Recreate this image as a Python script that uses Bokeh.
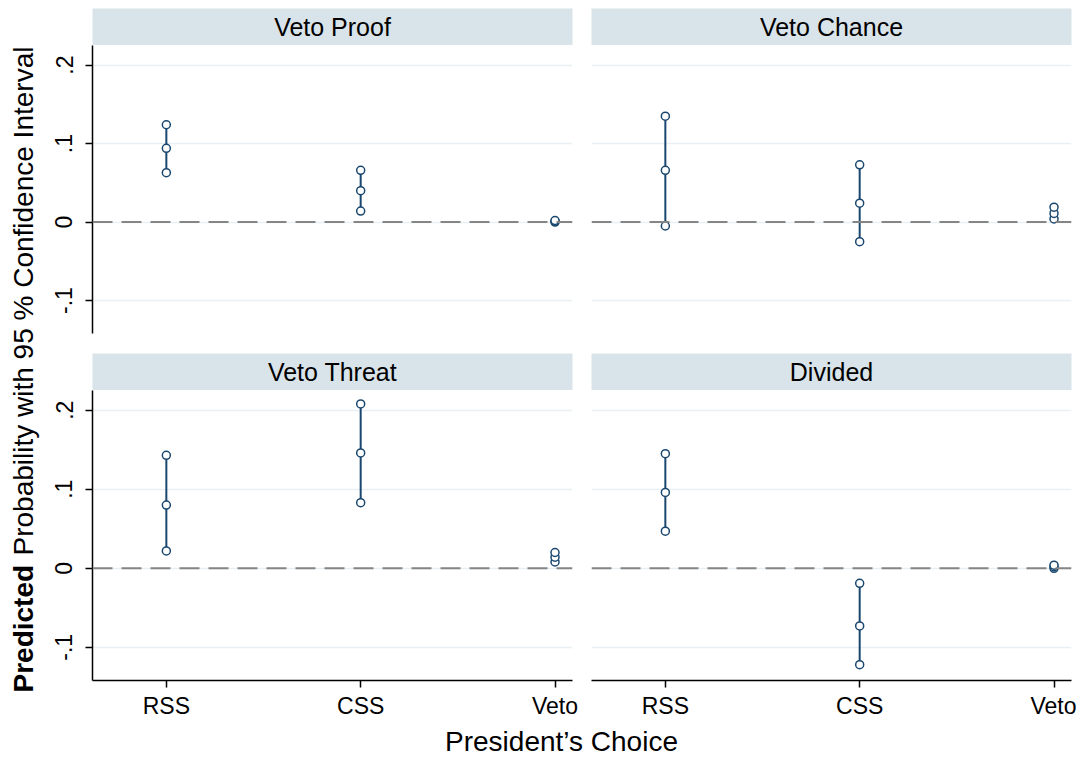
import math
from bokeh.plotting import figure
from bokeh.layouts import row, column
from bokeh.models import Range1d, FixedTicker, Span, Grid, ColumnDataSource
from bokeh.core.properties import value
from bokeh.embed import file_html
from bokeh.resources import INLINE

# ---- data ----
choices = ["RSS", "CSS", "Veto"]
panel_titles = ["Veto Proof", "Veto Chance", "Veto Threat", "Divided"]

vp_lo = [0.063, 0.014, 0.000]
vp_mid = [0.094, 0.040, 0.001]
vp_hi = [0.124, 0.066, 0.002]

vc_lo = [-0.005, -0.025, 0.004]
vc_mid = [0.066, 0.024, 0.011]
vc_hi = [0.135, 0.073, 0.019]

vt_lo = [0.022, 0.083, 0.008]
vt_mid = [0.080, 0.146, 0.014]
vt_hi = [0.143, 0.208, 0.020]

dv_lo = [0.047, -0.122, 0.000]
dv_mid = [0.096, -0.073, 0.002]
dv_hi = [0.145, -0.019, 0.004]

y_ticks = [-0.1, 0.0, 0.1, 0.2]
y_tick_labels = ["-.1", "0", ".1", ".2"]

# ---- styles ----
FONT = "Liberation Sans"
NAVY = "#1a476f"
STRIP = "#d9e4ea"
GRID = "#e9f0f3"
TICK_FS = "23px"
STRIP_FS = "25px"
TITLE_FS = "28px"

LEFT_W, RIGHT_W = 545, 491
LEFT_B = 52
TOP_H, BOT_H = 308, 331
STRIP_H = 37
TOP_PAD = 8
XLAB_H = 36
YLAB_W = 40


def base_fig(width, height, left, **kw):
    p = figure(width=width, height=height, output_backend="svg", toolbar_location=None,
               min_border_left=LEFT_B if left else 6, min_border_right=13 if left else 5,
               background_fill_color="white", border_fill_color="white",
               outline_line_color=None, **kw)
    return p


def strip(title, left, top_pad):
    p = base_fig(LEFT_W if left else RIGHT_W, STRIP_H + top_pad, left,
                 x_range=Range1d(0, 1), y_range=Range1d(0, 1),
                 x_axis_location=None, y_axis_location=None,
                 min_border_bottom=0, min_border_top=top_pad)
    p.background_fill_color = STRIP
    p.grid.visible = False
    p.text(x=[0.5], y=[0.5], text=[title], text_align="center", text_baseline="middle",
           text_font=value(FONT), text_font_size=STRIP_FS, text_color="black")
    return p


def panel(lo, mid, hi, left, bottom):
    xs = [i + 1 for i in range(len(choices))]
    p = base_fig(LEFT_W if left else RIGHT_W, BOT_H if bottom else TOP_H, left,
                 x_range=Range1d(0.62, 3.09), y_range=Range1d(-0.142, 0.225),
                 x_axis_location="below" if bottom else None,
                 y_axis_location="left" if left else None,
                 min_border_top=0, min_border_bottom=40 if bottom else 20)
    p.grid.visible = False
    p.add_layout(Grid(dimension=1, ticker=FixedTicker(ticks=y_ticks),
                      grid_line_color=GRID, grid_line_width=1.5))
    p.add_layout(Span(location=0, dimension="width", line_color="#858585",
                      line_dash="20 9", line_width=2))
    src = ColumnDataSource(dict(x=xs, lo=lo, mid=mid, hi=hi))
    p.segment(x0="x", y0="lo", x1="x", y1="hi", source=src, line_color=NAVY, line_width=2)
    for col in ("lo", "mid", "hi"):
        p.scatter(x="x", y=col, source=src, marker="circle", size=8,
                  line_color=NAVY, line_width=1.5, fill_color="white")
    if left:
        ax = p.yaxis[0]
        ax.ticker = FixedTicker(ticks=y_ticks)
        ax.major_label_overrides = {t: l for t, l in zip(y_ticks, y_tick_labels)}
        ax.major_label_orientation = "vertical"
        ax.major_label_text_font = FONT
        ax.major_label_text_font_size = TICK_FS
        ax.major_label_text_color = "black"
        ax.major_label_standoff = 13
        ax.major_tick_out = 7
        ax.major_tick_in = 0
        ax.minor_tick_line_color = None
        ax.axis_line_width = 1.5
        ax.major_tick_line_width = 1.5
        ax.axis_line_color = "black"
    if bottom:
        ax = p.xaxis[0]
        ax.ticker = FixedTicker(ticks=xs)
        ax.major_label_overrides = {x: c for x, c in zip(xs, choices)}
        ax.major_label_text_font = FONT
        ax.major_label_text_font_size = TICK_FS
        ax.major_label_text_color = "black"
        ax.major_label_standoff = 5
        ax.major_tick_out = 7
        ax.major_tick_in = 0
        ax.minor_tick_line_color = None
        ax.axis_line_width = 1.5
        ax.major_tick_line_width = 1.5
        ax.axis_line_color = "black"
    return p


tl = panel(vp_lo, vp_mid, vp_hi, True, False)
tr = panel(vc_lo, vc_mid, vc_hi, False, False)
bl = panel(vt_lo, vt_mid, vt_hi, True, True)
br = panel(dv_lo, dv_mid, dv_hi, False, True)

s_tl = strip(panel_titles[0], True, TOP_PAD)
s_tr = strip(panel_titles[1], False, TOP_PAD)
s_bl = strip(panel_titles[2], True, 0)
s_br = strip(panel_titles[3], False, 0)

# y-axis title
TOTAL_H = TOP_PAD + STRIP_H * 2 + TOP_H + BOT_H + XLAB_H
ylab = figure(width=YLAB_W, height=TOTAL_H, output_backend="svg", toolbar_location=None,
              x_range=Range1d(0, YLAB_W), y_range=Range1d(0, TOTAL_H),
              x_axis_location=None, y_axis_location=None, min_border=0,
              outline_line_color=None)
ylab.grid.visible = False
ylab.text(x=[23], y=[TOTAL_H - 692], text=["Predicted"], angle=math.pi / 2, text_align="left",
          text_baseline="middle", text_font=value(FONT), text_font_size=TITLE_FS,
          text_font_style="bold", text_color="black")
ylab.text(x=[23], y=[TOTAL_H - 555], text=["Probability with 95 % Confidence Interval"],
          angle=math.pi / 2, text_align="left", text_baseline="middle",
          text_font=value(FONT), text_font_size=TITLE_FS, text_color="black")

# x-axis title
XW = LEFT_W + RIGHT_W
xlab = figure(width=XW, height=XLAB_H, output_backend="svg", toolbar_location=None,
              x_range=Range1d(YLAB_W, YLAB_W + XW), y_range=Range1d(0, XLAB_H),
              x_axis_location=None, y_axis_location=None, min_border=0,
              outline_line_color=None)
xlab.grid.visible = False
xlab.text(x=[561], y=[16], text=["President\u2019s Choice"], text_align="center",
          text_baseline="middle", text_font=value(FONT), text_font_size=TITLE_FS,
          text_color="black")

grid = column(row(s_tl, s_tr), row(tl, tr), row(s_bl, s_br), row(bl, br), xlab)
layout = row(ylab, grid)

open("out.html", "w").write(file_html(layout, INLINE))
